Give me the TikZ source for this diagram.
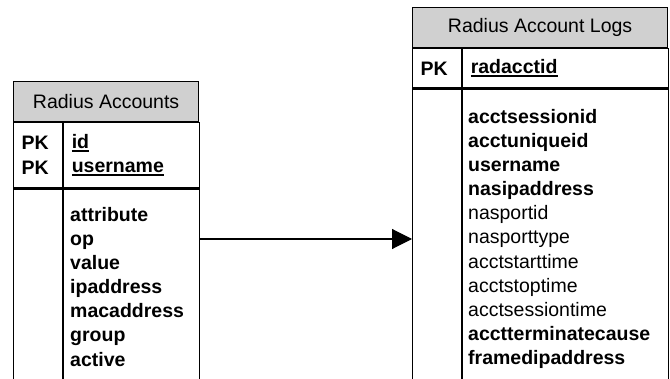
\documentclass[tikz,border=0pt]{standalone}
\usepackage{fontspec}
\setmainfont{Liberation Sans}
\usetikzlibrary{arrows.meta}
\definecolor{headgray}{RGB}{208,208,208}
% underlined primary key name
\newcommand\keyname[1]{\leavevmode\setbox0=\hbox{\bfseries #1}\rlap{\rule[-3pt]{\wd0}{1.8pt}}\box0}

\begin{document}
\begin{tikzpicture}[x=1pt, y=1pt,
  font=\fontsize{19.5}{24.1}\selectfont,
  cell/.style={draw, line width=1.2pt, inner sep=0pt, anchor=north west},
  head/.style={cell, fill=headgray},
  keycell/.style={cell, inner xsep=8pt, align=left, font=\fontsize{19.5}{24.1}\selectfont\bfseries},
  fieldlist/.style={anchor=base west, inner sep=0pt, align=left},
  arr/.style={-{Triangle[length=20pt,width=20pt]}, line width=1.1pt}]
  \useasboundingbox (0,0) rectangle (670,378);

  % Radius Accounts
  \node[head, minimum width=185, minimum height=40] (acc-hdr) at (13,297) {Radius Accounts};
  \node[keycell, text width=33, minimum height=65] (acc-pk) at (acc-hdr.south west) {PK\\PK};
  \node[keycell, text width=120, minimum height=65] (acc-pkf) at (acc-pk.north east)
    {\keyname{id}\\\keyname{username}};
  \node[cell, minimum width=49, minimum height=215] (acc-bk) at (acc-pk.south west) {};
  \node[cell, minimum width=136, minimum height=215] (acc-bf) at (acc-pk.south east) {};
  \node[fieldlist, text width=125, font=\fontsize{19.5}{24.1}\selectfont\bfseries] (acc-list) at (70,156.5)
    {attribute\\op\\value\\ipaddress\\macaddress\\group\\active};

  % Radius Account Logs
  \node[head, minimum width=255, minimum height=40] (log-hdr) at (412,371) {Radius Account Logs};
  \node[keycell, text width=33, minimum height=39] (log-pk) at (log-hdr.south west) {PK};
  \node[keycell, text width=190, minimum height=39] (log-pkf) at (log-pk.north east) {\keyname{radacctid}};
  \node[cell, minimum width=49, minimum height=315] (log-bk) at (log-pk.south west) {};
  \node[cell, minimum width=206, minimum height=315] (log-bf) at (log-pk.south east) {};
  \node[fieldlist, text width=195] (log-list) at (468,254.5)
    {\textbf{acctsessionid}\\\textbf{acctuniqueid}\\\textbf{username}\\\textbf{nasipaddress}\\
     nasportid\\nasporttype\\acctstarttime\\acctstoptime\\acctsessiontime\\
     \textbf{acctterminatecause}\\\textbf{framedipaddress}};

  \coordinate (link) at (0,139);
  \draw[arr] (acc-bf.east |- link) -- (log-bk.west |- link);
\end{tikzpicture}
\end{document}
